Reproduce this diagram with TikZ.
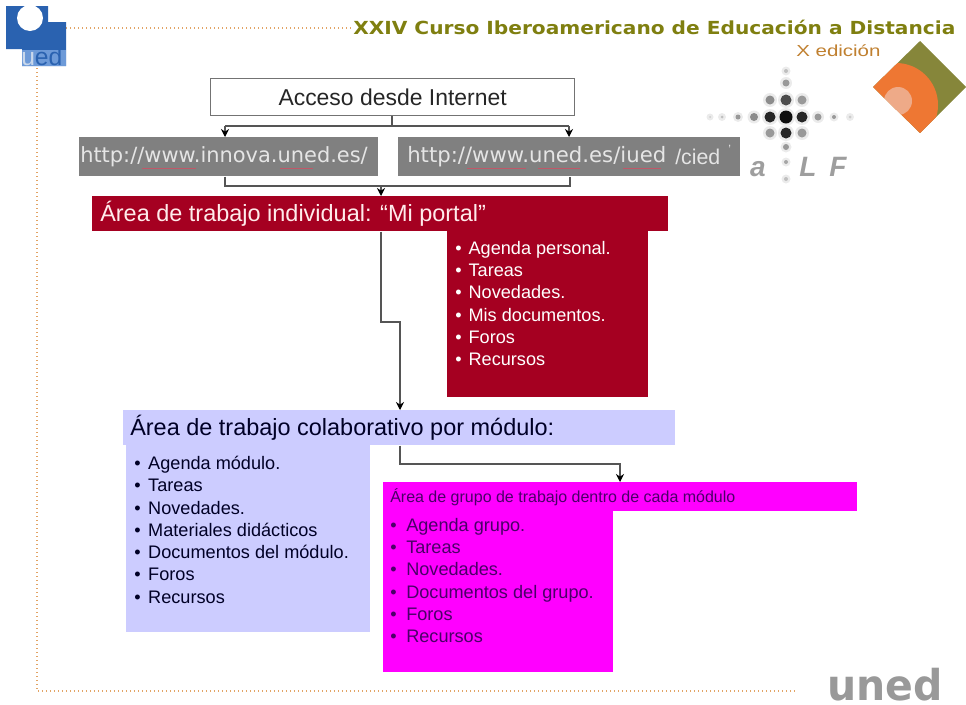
\documentclass[tikz,border=0pt]{standalone}
\usepackage{fontspec}
\setmainfont{Liberation Sans}
\newfontfamily\titlefont{DejaVu Sans}
\usetikzlibrary{arrows.meta}
\definecolor{cred}{HTML}{A50021}
\definecolor{clav}{HTML}{CCCCFF}
\definecolor{cmag}{HTML}{FF00FF}
\definecolor{cgray}{HTML}{808080}
\definecolor{cline}{HTML}{555555}
\definecolor{cdot}{HTML}{E2A466}
\definecolor{colive}{HTML}{86863A}
\definecolor{corange}{HTML}{EE7733}
\definecolor{cpeach}{HTML}{EEAA88}
\definecolor{ctitle}{HTML}{7F7F10}
\definecolor{cedit}{HTML}{C08030}
\definecolor{cblue}{HTML}{2A62B0}
\definecolor{cblueb}{HTML}{6D9AD8}
\definecolor{cdarkm}{HTML}{4A0068}
\definecolor{cunder}{HTML}{C05868}
\tikzset{
  x=0.75pt,y=0.75pt,
  dotline/.style={draw=cdot,line width=1.2pt,dash pattern=on 1.1pt off 1.9pt},
  conn/.style={draw=cline,line width=0.8pt},
  arr/.style={conn,-{Stealth[length=6pt,width=6pt,black]}},
  itemlist/.style={anchor=north west,inner sep=0pt,align=left,font=\fontsize{13.6}{16.7}\selectfont},
  urltext/.style={anchor=west,inner sep=0pt,text=white!90!black,font=\titlefont\fontsize{15.7}{18}\selectfont},
  alfletter/.style={anchor=base,inner sep=0pt,text=black!38,font=\bfseries\itshape\fontsize{21}{21}\selectfont},
  squiggle/.style={draw=cunder,line width=0.7pt},
}
\newcommand{\rbox}[7][]{%
  \pgfmathsetmacro{\bxw}{(#5-#3)*0.75}%
  \pgfmathsetmacro{\bxh}{(#6-#4)*0.75}%
  \node[anchor=north west,inner ysep=0pt,inner xsep=0pt,minimum width=\bxw pt,minimum height=\bxh pt,#1] (#2) at (#3,-#4) {#7};}
\newcommand{\li}[2][10pt]{\makebox[#1][l]{\textbullet}#2\\}
\begin{document}
\begin{tikzpicture}
\useasboundingbox (0,0) rectangle (966,-704);
% frame dots
\coordinate (dt1) at (66,-28); \coordinate (dt2) at (352,-28);
\coordinate (dl1) at (37,-68); \coordinate (dl2) at (37,-691);
\coordinate (db2) at (795,-691);
\draw[dotline] (dt1) -- (dt2);
\draw[dotline] (dl1) -- (dl2) -- (db2);
% UNED logo
\fill[cblue] (6,-6) -- (48,-6) -- (48,-22) -- (66,-22) -- (66,-66) -- (22,-66) -- (22,-49) -- (6,-49) -- cycle;
\fill[cblueb] (22,-50) rectangle (66,-66);
\fill[white] (30,-18) circle[radius=13];
\node[anchor=base west,inner sep=0pt,font=\fontsize{18.5}{19}\selectfont] (uedlogo) at (21,-65) {\textcolor{white!75!cblue}{u}\textcolor{cblue}{ed}};
% title
\node[anchor=west,inner sep=0pt,text=ctitle,font=\titlefont\bfseries\fontsize{13.5}{15}\selectfont] (title) at (353,-27) {\scalebox{1.12}[1]{XXIV Curso Iberoamericano de Educación a Distancia}};
\node[anchor=west,inner sep=0pt,text=cedit,font=\fontsize{12}{13}\selectfont] (edicion) at (796,-51) {\scalebox{1.28}[1]{X edición}};
% diamond logo
\begin{scope}
\clip (920,-41) -- (966,-87) -- (920,-133) -- (873,-87) -- cycle;
\fill[colive] (920,-41) -- (966,-87) -- (920,-133) -- (873,-87) -- cycle;
\fill[corange] (896,-105) circle[radius=42];
\fill[cpeach] (898,-101) circle[radius=14];
\end{scope}
% aLF logo
\foreach \px/\py/\r/\g in {
  786/-117/6.5/95, 770/-117/5.5/85, 802/-117/5.5/85, 786/-100/5.5/70, 786/-133/5.5/85,
  770/-100/4.5/45, 802/-100/4.5/40, 770/-133/4.5/40, 802/-133/4.5/40,
  754/-117/4/45, 818/-117/3.5/40, 738/-117/2.5/40, 834/-117/2/40, 722/-117/1.5/25, 850/-117/1.5/20, 710/-117/1/20,
  786/-83/3.5/40, 786/-71/2/25, 786/-147/3/40, 786/-162/2/35, 786/-179/2/25}{
  \fill[black!8] (\px,\py) circle[radius=\r+2.5];
  \fill[black!\g] (\px,\py) circle[radius=\r];
}
\node[alfletter] (alfa) at (758,-176) {a};
\node[alfletter] (alfl) at (808,-176) {L};
\node[alfletter] (alff) at (838,-176) {F};
% uned
\node[anchor=base east,inner sep=0pt,text=black!40,font=\titlefont\bfseries\fontsize{29}{29}\selectfont] (unedtxt) at (943,-700) {\scalebox{1.06}[1.1]{uned}};
% boxes
\rbox[draw=black!55,line width=0.9pt,fill=white,font=\fontsize{17.2}{20}\selectfont,text=black!85]{acc}{210}{78}{574}{115}{Acceso desde Internet}
\rbox[fill=cgray]{url1}{79}{137}{378}{176}{}
\rbox[fill=cgray]{url2}{398}{137}{740}{176}{}
\node[urltext] (url1txt) at (80,-157) {http://www.innova.uned.es/};
\node[urltext,font=\titlefont\fontsize{15.9}{18}\selectfont] (url2txt) at (407,-157) {http://www.uned.es/iued};
\node[urltext,font=\fontsize{16}{18}\selectfont] (url2b) at (675,-157) {/cied};
\node[urltext,font=\fontsize{9}{10}\selectfont] (url2c) at (728,-149) {'};
\draw[squiggle] (142,-168) -- (196,-168) (280,-168) -- (313,-168);
\draw[squiggle] (467,-168) -- (526,-168) (538,-168) -- (580,-168) (623,-168) -- (661,-168);
\rbox[fill=cred]{redbody}{447}{231}{648}{397}{}
\rbox[fill=cred]{redhead}{92}{196}{668}{231}{}
\node[anchor=west,inner sep=0pt,text=white!92!red,font=\fontsize{17.6}{20}\selectfont] (redtxt) at (100,-214) {Área de trabajo individual: “Mi portal”};
\node[itemlist,text=white] (redlist) at (455,-241) {\li{Agenda personal.}\li{Tareas}\li{Novedades.}\li{Mis documentos.}\li{Foros}\li{Recursos}};
\rbox[fill=clav]{lavbody}{126}{445}{370}{632}{}
\rbox[fill=clav]{lavhead}{123}{410}{675}{445}{}
\node[anchor=west,inner sep=0pt,text=black!85!blue,font=\fontsize{17.6}{20}\selectfont] (lavtxt) at (130,-428) {Área de trabajo colaborativo por módulo:};
\node[itemlist,text=black!85!blue] (lavlist) at (134,-456) {\li[10.5pt]{Agenda módulo.}\li[10.5pt]{Tareas}\li[10.5pt]{Novedades.}\li[10.5pt]{Materiales didácticos}\li[10.5pt]{Documentos del módulo.}\li[10.5pt]{Foros}\li[10.5pt]{Recursos}};
\rbox[fill=cmag]{magbody}{383}{511}{613}{672}{}
\rbox[fill=cmag]{maghead}{383}{482}{857}{511}{}
\node[anchor=west,inner sep=0pt,text=cdarkm,font=\fontsize{12}{14}\selectfont] (magtxt) at (390,-497) {Área de grupo de trabajo dentro de cada módulo};
\node[itemlist,text=cdarkm] (maglist) at (390,-518) {\li[12pt]{Agenda grupo.}\li[12pt]{Tareas}\li[12pt]{Novedades.}\li[12pt]{Documentos del grupo.}\li[12pt]{Foros}\li[12pt]{Recursos}};
% connectors
\coordinate (b1) at (392,-126);
\coordinate (b1l) at (225,-126);
\coordinate (b1r) at (569,-126);
\draw[conn] (acc.south -| b1) -- (b1);
\draw[arr] (b1l) -- (url1.north -| b1l);
\draw[arr] (b1r) -- (url2.north -| b1r);
\draw[conn] (b1l) -- (b1r);
\coordinate (b2l) at (225,-186);
\coordinate (b2r) at (570,-186);
\coordinate (b2m) at (381,-186);
\draw[conn] (url1.south -| b2l) -- (b2l) -- (b2r) -- (url2.south -| b2r);
\draw[arr] (b2m) -- (redhead.north -| b2m);
\coordinate (c1) at (381,-322);
\coordinate (c2) at (400,-322);
\draw[arr] (redhead.south -| c1) -- (c1) -- (c2) -- (lavhead.north -| c2);
\coordinate (d1) at (400,-464);
\coordinate (d2) at (620,-464);
\draw[arr] (lavhead.south -| d1) -- (d1) -- (d2) -- (maghead.north -| d2);
\end{tikzpicture}
\end{document}
